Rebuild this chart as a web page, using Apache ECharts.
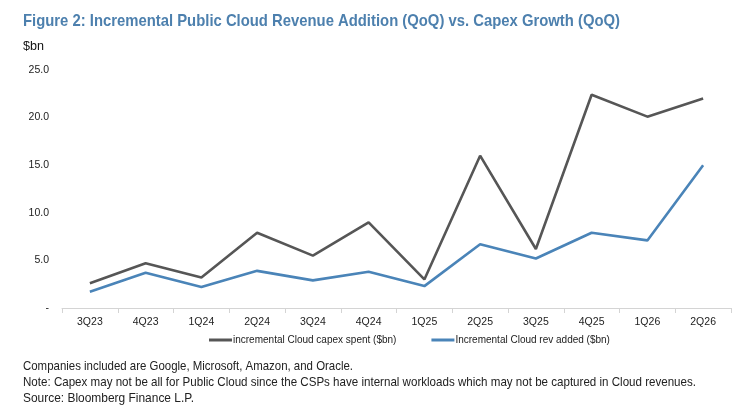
<!DOCTYPE html>
<html>
<head>
<meta charset="utf-8">
<script src="https://cdn.jsdelivr.net/npm/echarts@6/dist/echarts.min.js"></script>
<style>
html,body{margin:0;padding:0;background:#fff;}
#c{width:756px;height:419px;}
</style>
</head>
<body>
<div id="c"></div>
<script>
var categories = ['3Q23','4Q23','1Q24','2Q24','3Q24','4Q24','1Q25','2Q25','3Q25','4Q25','1Q26','2Q26'];
var capexSpent = [2.6, 4.7, 3.2, 7.9, 5.5, 9.0, 3.0, 16.0, 6.2, 22.4, 20.1, 22.0];
var revAdded   = [1.7, 3.7, 2.2, 3.9, 2.9, 3.8, 2.3, 6.7, 5.2, 7.9, 7.1, 15.0];
var seriesNames = ['incremental Cloud capex spent ($bn)', 'Incremental Cloud rev added ($bn)'];
var titleText = 'Figure 2: Incremental Public Cloud Revenue Addition (QoQ) vs. Capex Growth (QoQ)';
var unitText = '$bn';
var notes = [
  'Companies included are Google, Microsoft, Amazon, and Oracle.',
  'Note: Capex may not be all for Public Cloud since the CSPs have internal workloads which may not be captured in Cloud revenues.',
  'Source: Bloomberg Finance L.P.'
];

var FONT = "'Liberation Sans Narrow','Arial Narrow','Liberation Sans',Arial,sans-serif";
var cv = document.createElement('canvas').getContext('2d');
function fitScale(text, size, weight, target){
  cv.font = (weight||'normal') + ' ' + size + 'px ' + FONT;
  var w = cv.measureText(text).width;
  return target / w;
}
function txt(text, x, y, size, weight, color, target){
  var s = fitScale(text, size, weight, target);
  return {type:'text', x:x, y:y, scaleX:s, scaleY:1,
    style:{text:text, fontSize:size, fontWeight:weight||'normal', fontFamily:FONT, fill:color}};
}

var chart = echarts.init(document.getElementById('c'), null, {renderer:'canvas'});
chart.setOption({
  animation:false,
  backgroundColor:'#fff',
  grid:{left:62, right:25, top:70, bottom:111, containLabel:false},
  xAxis:{
    type:'category', data:categories, boundaryGap:true,
    axisLine:{show:true, lineStyle:{color:'#d4d4d4', width:1}},
    axisTick:{show:true, length:5, lineStyle:{color:'#d4d4d4'}},
    axisLabel:{color:'#222', fontSize:10.5, fontFamily:FONT, margin:9}
  },
  yAxis:{
    type:'value', min:0, max:25, interval:5,
    axisLine:{show:false}, axisTick:{show:false}, splitLine:{show:false},
    axisLabel:{color:'#222', fontSize:10.5, fontFamily:FONT, margin:13,
      formatter:function(v){ return v===0 ? '-' : v.toFixed(1); }}
  },
  legend:{
    show:true, bottom:69, left:204, itemGap:35, itemWidth:23, itemHeight:3,
    icon:'rect', textStyle:{fontSize:10, fontFamily:FONT, color:'#222', padding:[0,0,0,-4]},
    data:seriesNames
  },
  series:[
    {name:seriesNames[0], type:'line', data:capexSpent, symbol:'none',
     lineStyle:{color:'#565656', width:2.6}, itemStyle:{color:'#565656'}},
    {name:seriesNames[1], type:'line', data:revAdded, symbol:'none',
     lineStyle:{color:'#4a84b8', width:2.6}, itemStyle:{color:'#4a84b8'}}
  ],
  graphic:[
    txt(titleText, 23, 13, 17, 'bold', '#4d80ae', 597),
    txt(unitText, 23, 39, 13.5, 'normal', '#111', 21),
    txt(notes[0], 23, 360, 13, 'normal', '#222', 330),
    txt(notes[1], 23, 376, 13, 'normal', '#222', 673),
    txt(notes[2], 23, 392, 13, 'normal', '#222', 171)
  ]
});
</script>
</body>
</html>
